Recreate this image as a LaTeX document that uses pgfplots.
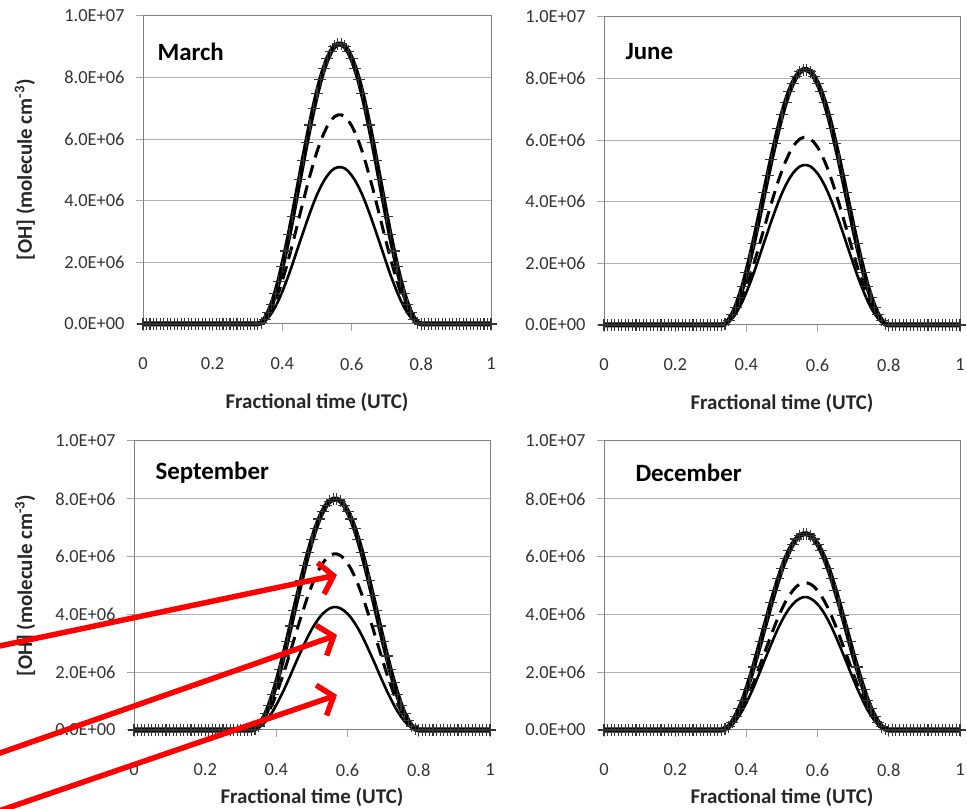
\documentclass[border=0pt]{standalone}
\usepackage{pgfplots}
\pgfplotsset{compat=1.18}
\usepackage{pgfplotstable}
\usepackage{fontspec}
\setmainfont{Carlito}
\usetikzlibrary{arrows.meta}

% values in units of 1E6 molecule cm^-3 ; columns: p (+ symbols), d (dashed), s (solid)
\pgfplotstableread{
x p d s
0.00 0 0 0
0.01 0 0 0
0.02 0 0 0
0.03 0 0 0
0.04 0 0 0
0.05 0 0 0
0.06 0 0 0
0.07 0 0 0
0.08 0 0 0
0.09 0 0 0
0.10 0 0 0
0.11 0 0 0
0.12 0 0 0
0.13 0 0 0
0.14 0 0 0
0.15 0 0 0
0.16 0 0 0
0.17 0 0 0
0.18 0 0 0
0.19 0 0 0
0.20 0 0 0
0.21 0 0 0
0.22 0 0 0
0.23 0 0 0
0.24 0 0 0
0.25 0 0 0
0.26 0 0 0
0.27 0 0 0
0.28 0 0 0
0.29 0 0 0
0.30 0 0 0
0.31 0 0 0
0.32 0 0 0
0.33 0 0 0
0.34 0.04 0.03 0.02
0.35 0.16 0.12 0.09
0.36 0.36 0.27 0.20
0.37 0.64 0.48 0.36
0.38 0.98 0.73 0.55
0.39 1.38 1.03 0.78
0.40 1.86 1.39 1.04
0.41 2.37 1.77 1.33
0.42 2.91 2.18 1.63
0.43 3.49 2.61 1.96
0.44 4.10 3.06 2.30
0.45 4.70 3.52 2.64
0.46 5.31 3.96 2.97
0.47 5.90 4.41 3.30
0.48 6.46 4.83 3.62
0.49 7.00 5.23 3.92
0.50 7.49 5.60 4.20
0.51 7.93 5.92 4.44
0.52 8.30 6.20 4.65
0.53 8.61 6.43 4.82
0.54 8.85 6.61 4.96
0.55 9.01 6.73 5.05
0.56 9.09 6.79 5.09
0.57 9.09 6.79 5.09
0.58 9.01 6.73 5.05
0.59 8.85 6.61 4.96
0.60 8.61 6.43 4.82
0.61 8.30 6.20 4.65
0.62 7.93 5.92 4.44
0.63 7.49 5.60 4.20
0.64 7.00 5.23 3.92
0.65 6.46 4.83 3.62
0.66 5.90 4.41 3.30
0.67 5.31 3.96 2.97
0.68 4.70 3.52 2.64
0.69 4.10 3.06 2.30
0.70 3.49 2.61 1.96
0.71 2.91 2.18 1.63
0.72 2.37 1.77 1.33
0.73 1.86 1.39 1.04
0.74 1.38 1.03 0.78
0.75 0.98 0.73 0.55
0.76 0.64 0.48 0.36
0.77 0.36 0.27 0.20
0.78 0.16 0.12 0.09
0.79 0.04 0.03 0.02
0.80 0 0 0
0.81 0 0 0
0.82 0 0 0
0.83 0 0 0
0.84 0 0 0
0.85 0 0 0
0.86 0 0 0
0.87 0 0 0
0.88 0 0 0
0.89 0 0 0
0.90 0 0 0
0.91 0 0 0
0.92 0 0 0
0.93 0 0 0
0.94 0 0 0
0.95 0 0 0
0.96 0 0 0
0.97 0 0 0
0.98 0 0 0
0.99 0 0 0
1.00 0 0 0
}\march

\pgfplotstableread{
x p d s
0.00 0 0 0
0.01 0 0 0
0.02 0 0 0
0.03 0 0 0
0.04 0 0 0
0.05 0 0 0
0.06 0 0 0
0.07 0 0 0
0.08 0 0 0
0.09 0 0 0
0.10 0 0 0
0.11 0 0 0
0.12 0 0 0
0.13 0 0 0
0.14 0 0 0
0.15 0 0 0
0.16 0 0 0
0.17 0 0 0
0.18 0 0 0
0.19 0 0 0
0.20 0 0 0
0.21 0 0 0
0.22 0 0 0
0.23 0 0 0
0.24 0 0 0
0.25 0 0 0
0.26 0 0 0
0.27 0 0 0
0.28 0 0 0
0.29 0 0 0
0.30 0 0 0
0.31 0 0 0
0.32 0 0 0
0.33 0 0 0
0.34 0.03 0.02 0.02
0.35 0.15 0.11 0.09
0.36 0.33 0.24 0.21
0.37 0.58 0.43 0.36
0.38 0.90 0.66 0.56
0.39 1.26 0.93 0.79
0.40 1.69 1.24 1.06
0.41 2.16 1.59 1.35
0.42 2.66 1.95 1.66
0.43 3.19 2.34 2.00
0.44 3.74 2.75 2.34
0.45 4.29 3.15 2.69
0.46 4.84 3.56 3.03
0.47 5.38 3.95 3.37
0.48 5.89 4.33 3.69
0.49 6.38 4.69 4.00
0.50 6.83 5.02 4.28
0.51 7.23 5.31 4.53
0.52 7.57 5.56 4.74
0.53 7.85 5.77 4.92
0.54 8.07 5.93 5.05
0.55 8.22 6.04 5.15
0.56 8.29 6.09 5.19
0.57 8.29 6.09 5.19
0.58 8.22 6.04 5.15
0.59 8.07 5.93 5.05
0.60 7.85 5.77 4.92
0.61 7.57 5.56 4.74
0.62 7.23 5.31 4.53
0.63 6.83 5.02 4.28
0.64 6.38 4.69 4.00
0.65 5.89 4.33 3.69
0.66 5.38 3.95 3.37
0.67 4.84 3.56 3.03
0.68 4.29 3.15 2.69
0.69 3.74 2.75 2.34
0.70 3.19 2.34 2.00
0.71 2.66 1.95 1.66
0.72 2.16 1.59 1.35
0.73 1.69 1.24 1.06
0.74 1.26 0.93 0.79
0.75 0.90 0.66 0.56
0.76 0.58 0.43 0.36
0.77 0.33 0.24 0.21
0.78 0.15 0.11 0.09
0.79 0.03 0.02 0.02
0.80 0 0 0
0.81 0 0 0
0.82 0 0 0
0.83 0 0 0
0.84 0 0 0
0.85 0 0 0
0.86 0 0 0
0.87 0 0 0
0.88 0 0 0
0.89 0 0 0
0.90 0 0 0
0.91 0 0 0
0.92 0 0 0
0.93 0 0 0
0.94 0 0 0
0.95 0 0 0
0.96 0 0 0
0.97 0 0 0
0.98 0 0 0
0.99 0 0 0
1.00 0 0 0
}\june

\pgfplotstableread{
x p d s
0.00 0 0 0
0.01 0 0 0
0.02 0 0 0
0.03 0 0 0
0.04 0 0 0
0.05 0 0 0
0.06 0 0 0
0.07 0 0 0
0.08 0 0 0
0.09 0 0 0
0.10 0 0 0
0.11 0 0 0
0.12 0 0 0
0.13 0 0 0
0.14 0 0 0
0.15 0 0 0
0.16 0 0 0
0.17 0 0 0
0.18 0 0 0
0.19 0 0 0
0.20 0 0 0
0.21 0 0 0
0.22 0 0 0
0.23 0 0 0
0.24 0 0 0
0.25 0 0 0
0.26 0 0 0
0.27 0 0 0
0.28 0 0 0
0.29 0 0 0
0.30 0 0 0
0.31 0 0 0
0.32 0 0 0
0.33 0 0 0
0.34 0.03 0.02 0.02
0.35 0.14 0.11 0.08
0.36 0.32 0.24 0.17
0.37 0.56 0.43 0.30
0.38 0.86 0.66 0.46
0.39 1.22 0.93 0.65
0.40 1.63 1.24 0.87
0.41 2.08 1.59 1.11
0.42 2.56 1.95 1.36
0.43 3.07 2.34 1.63
0.44 3.60 2.75 1.91
0.45 4.14 3.15 2.20
0.46 4.66 3.56 2.48
0.47 5.18 3.95 2.75
0.48 5.68 4.33 3.02
0.49 6.15 4.69 3.27
0.50 6.58 5.02 3.50
0.51 6.97 5.31 3.70
0.52 7.30 5.56 3.88
0.53 7.57 5.77 4.02
0.54 7.78 5.93 4.13
0.55 7.92 6.04 4.21
0.56 7.99 6.09 4.25
0.57 7.99 6.09 4.25
0.58 7.92 6.04 4.21
0.59 7.78 5.93 4.13
0.60 7.57 5.77 4.02
0.61 7.30 5.56 3.88
0.62 6.97 5.31 3.70
0.63 6.58 5.02 3.50
0.64 6.15 4.69 3.27
0.65 5.68 4.33 3.02
0.66 5.18 3.95 2.75
0.67 4.66 3.56 2.48
0.68 4.14 3.15 2.20
0.69 3.60 2.75 1.91
0.70 3.07 2.34 1.63
0.71 2.56 1.95 1.36
0.72 2.08 1.59 1.11
0.73 1.63 1.24 0.87
0.74 1.22 0.93 0.65
0.75 0.86 0.66 0.46
0.76 0.56 0.43 0.30
0.77 0.32 0.24 0.17
0.78 0.14 0.11 0.08
0.79 0.03 0.02 0.02
0.80 0 0 0
0.81 0 0 0
0.82 0 0 0
0.83 0 0 0
0.84 0 0 0
0.85 0 0 0
0.86 0 0 0
0.87 0 0 0
0.88 0 0 0
0.89 0 0 0
0.90 0 0 0
0.91 0 0 0
0.92 0 0 0
0.93 0 0 0
0.94 0 0 0
0.95 0 0 0
0.96 0 0 0
0.97 0 0 0
0.98 0 0 0
0.99 0 0 0
1.00 0 0 0
}\september

\pgfplotstableread{
x p d s
0.00 0 0 0
0.01 0 0 0
0.02 0 0 0
0.03 0 0 0
0.04 0 0 0
0.05 0 0 0
0.06 0 0 0
0.07 0 0 0
0.08 0 0 0
0.09 0 0 0
0.10 0 0 0
0.11 0 0 0
0.12 0 0 0
0.13 0 0 0
0.14 0 0 0
0.15 0 0 0
0.16 0 0 0
0.17 0 0 0
0.18 0 0 0
0.19 0 0 0
0.20 0 0 0
0.21 0 0 0
0.22 0 0 0
0.23 0 0 0
0.24 0 0 0
0.25 0 0 0
0.26 0 0 0
0.27 0 0 0
0.28 0 0 0
0.29 0 0 0
0.30 0 0 0
0.31 0 0 0
0.32 0 0 0
0.33 0 0 0
0.34 0.03 0.02 0.02
0.35 0.12 0.09 0.08
0.36 0.27 0.20 0.18
0.37 0.48 0.36 0.32
0.38 0.73 0.55 0.50
0.39 1.03 0.78 0.70
0.40 1.39 1.04 0.94
0.41 1.77 1.33 1.20
0.42 2.18 1.63 1.47
0.43 2.61 1.96 1.77
0.44 3.06 2.30 2.07
0.45 3.52 2.64 2.38
0.46 3.96 2.97 2.68
0.47 4.41 3.30 2.98
0.48 4.83 3.62 3.27
0.49 5.23 3.92 3.54
0.50 5.60 4.20 3.79
0.51 5.92 4.44 4.01
0.52 6.20 4.65 4.20
0.53 6.43 4.82 4.35
0.54 6.61 4.96 4.47
0.55 6.73 5.05 4.55
0.56 6.79 5.09 4.60
0.57 6.79 5.09 4.60
0.58 6.73 5.05 4.55
0.59 6.61 4.96 4.47
0.60 6.43 4.82 4.35
0.61 6.20 4.65 4.20
0.62 5.92 4.44 4.01
0.63 5.60 4.20 3.79
0.64 5.23 3.92 3.54
0.65 4.83 3.62 3.27
0.66 4.41 3.30 2.98
0.67 3.96 2.97 2.68
0.68 3.52 2.64 2.38
0.69 3.06 2.30 2.07
0.70 2.61 1.96 1.77
0.71 2.18 1.63 1.47
0.72 1.77 1.33 1.20
0.73 1.39 1.04 0.94
0.74 1.03 0.78 0.70
0.75 0.73 0.55 0.50
0.76 0.48 0.36 0.32
0.77 0.27 0.20 0.18
0.78 0.12 0.09 0.08
0.79 0.03 0.02 0.02
0.80 0 0 0
0.81 0 0 0
0.82 0 0 0
0.83 0 0 0
0.84 0 0 0
0.85 0 0 0
0.86 0 0 0
0.87 0 0 0
0.88 0 0 0
0.89 0 0 0
0.90 0 0 0
0.91 0 0 0
0.92 0 0 0
0.93 0 0 0
0.94 0 0 0
0.95 0 0 0
0.96 0 0 0
0.97 0 0 0
0.98 0 0 0
0.99 0 0 0
1.00 0 0 0
}\december

\pgfplotsset{
  panel/.style={
    scale only axis, clip=false,
    xmin=0, xmax=1, ymin=0, ymax=10,
    xtick={0,0.2,0.4,0.6,0.8,1},
    xticklabels={0,0.2,0.4,0.6,0.8,1},
    ytick={0,2,4,6,8,10},
    yticklabels={0.0E+00,2.0E+06,4.0E+06,6.0E+06,8.0E+06,1.0E+07},
    ymajorgrids, grid style={black!30, line width=1bp},
    axis line style={black!50, line width=1bp},
    tick align=outside, major tick length=7bp,
    tick style={black!35, line width=1bp},
    xtick pos=left, ytick pos=left,
    ticklabel style={font=\fontsize{18.5}{22}\selectfont, text=black!80},
    xticklabel style={anchor=center, yshift=-33bp},
    yticklabel style={anchor=east, xshift=-8bp},
    xlabel={Fractional time (UTC)},
    xlabel style={font=\bfseries\fontsize{21}{25}\selectfont, text=black!85, at={(axis description cs:0.5,0)}, anchor=center},
    ylabel style={font=\bfseries\fontsize{21}{25}\selectfont, text=black!85, anchor=center},
  },
  psym/.style={black, line width=5bp, mark=+, mark size=6bp, mark options={line width=1.1bp, black!80}},
  pdash/.style={black, line width=3bp, dash pattern=on 13bp off 8bp},
  psolid/.style={black, line width=2.6bp},
}

\begin{document}
\begin{tikzpicture}
\useasboundingbox (0,0) rectangle (967bp,809bp);

% March (top left)
\begin{axis}[panel, at={(143bp,485bp)}, anchor=south west, width=348bp, height=308bp,
  xlabel style={yshift=-78bp},
  ylabel={[OH] (molecule cm\textsuperscript{-3})},
  ylabel style={at={(axis description cs:-0.339,0.5)}}]
\addplot[psolid] table[x=x,y=s]{\march};
\addplot[pdash] table[x=x,y=d]{\march};
\addplot[psym] table[x=x,y=p]{\march};
\node[anchor=west, font=\bfseries\fontsize{25}{30}\selectfont] at (rel axis cs:0,1) [xshift=11bp, yshift=-36bp] {March};
\end{axis}

% June (top right)
\begin{axis}[panel, at={(604bp,484bp)}, anchor=south west, width=356bp, height=308bp,
  xlabel style={yshift=-78bp}]
\addplot[psolid] table[x=x,y=s]{\june};
\addplot[pdash] table[x=x,y=d]{\june};
\addplot[psym] table[x=x,y=p]{\june};
\node[anchor=west, font=\bfseries\fontsize{25}{30}\selectfont] at (rel axis cs:0,1) [xshift=18bp, yshift=-35bp] {June};
\end{axis}

% September (bottom left)
\begin{axis}[panel, at={(134bp,79bp)}, anchor=south west, width=356bp, height=289bp,
  xlabel style={yshift=-67bp},
  ylabel={[OH] (molecule cm\textsuperscript{-3})},
  ylabel style={at={(axis description cs:-0.306,0.5)}}]
\addplot[psolid] table[x=x,y=s]{\september};
\addplot[pdash] table[x=x,y=d]{\september};
\addplot[psym] table[x=x,y=p]{\september};
\node[anchor=west, font=\bfseries\fontsize{25}{30}\selectfont] at (rel axis cs:0,1) [xshift=18bp, yshift=-32bp] {September};
\end{axis}

% December (bottom right)
\begin{axis}[panel, at={(604bp,79bp)}, anchor=south west, width=356bp, height=289bp,
  xlabel style={yshift=-67bp}]
\addplot[psolid] table[x=x,y=s]{\december};
\addplot[pdash] table[x=x,y=d]{\december};
\addplot[psym] table[x=x,y=p]{\december};
\node[anchor=west, font=\bfseries\fontsize{25}{30}\selectfont] at (rel axis cs:0,1) [xshift=28bp, yshift=-32bp] {December};
\end{axis}

% red annotation arrows
\begin{scope}[red, line width=5.5bp, -{Straight Barb[length=13bp, width=32bp]}]
\draw (-10bp,161bp) -- (337bp,234bp);
\draw (-10bp,52.5bp) -- (337bp,174bp);
\draw (-10bp,-5bp) -- (337bp,114bp);
\end{scope}
\end{tikzpicture}
\end{document}
